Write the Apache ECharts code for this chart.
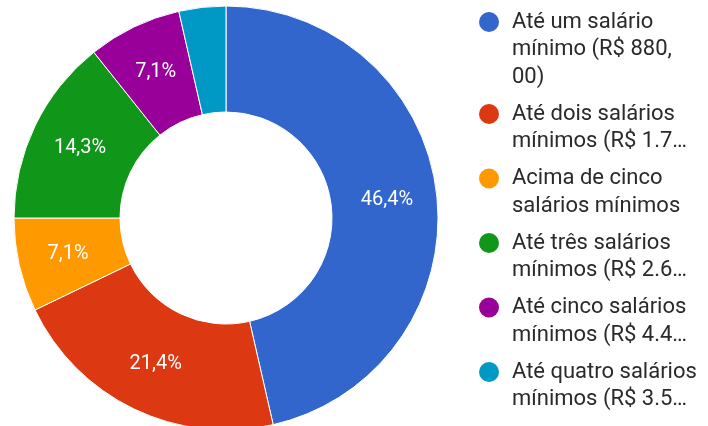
<!DOCTYPE html>
<html>
<head>
<meta charset="utf-8">
<script src="https://cdn.jsdelivr.net/npm/echarts@6/dist/echarts.min.js"></script>
<style>
	html, body { margin: 0; padding: 0; background: #fff; }
	#chart { width: 708px; height: 426px; }
</style>
</head>
<body>
<div id="chart"></div>
<script>
	// categories as shown in the legend (already truncated in the source)
	var categories = [
		'Até um salário mínimo (R$ 880,00)',
		'Até dois salários mínimos (R$ 1.7…',
		'Acima de cinco salários mínimos',
		'Até três salários mínimos (R$ 2.6…',
		'Até cinco salários mínimos (R$ 4.4…',
		'Até quatro salários mínimos (R$ 3.5…'
	];
	// how each legend entry is broken on screen
	var legendLines = [
		['Até um salário', 'mínimo (R$ 880,', '00)'],
		['Até dois salários', 'mínimos (R$ 1.7…'],
		['Acima de cinco', 'salários mínimos'],
		['Até três salários', 'mínimos (R$ 2.6…'],
		['Até cinco salários', 'mínimos (R$ 4.4…'],
		['Até quatro salários', 'mínimos (R$ 3.5…']
	];
	var counts = [13, 6, 2, 4, 2, 1];
	var colors = ['#3366cc', '#dc3912', '#ff9900', '#109618', '#990099', '#0099c6'];

	var chart = echarts.init(document.getElementById('chart'));

	var rich = {
		t: { fontSize: 22, lineHeight: 27.5, color: '#2a2a2a', fontFamily: 'Roboto' },
		g: { width: 13, height: 1 },
		s: { width: 33, height: 1 }
	};
	colors.forEach(function (c, i) {
		rich['d' + i] = { width: 20, height: 20, borderRadius: 10, backgroundColor: c };
	});

	var pieData = categories.map(function (name, i) {
		return { name: name, value: counts[i] };
	});

	chart.setOption({
		animation: false,
		color: colors,
		legend: {
			orient: 'vertical',
			left: 479,
			top: 11,
			icon: 'none',
			itemWidth: 0,
			itemHeight: 10,
			itemGap: 15,
			padding: 0,
			selectedMode: false,
			data: categories,
			formatter: function (name) {
				var i = categories.indexOf(name);
				return legendLines[i].map(function (line, k) {
					return (k === 0 ? '{d' + i + '|}{g|}' : '{s|}') + '{t|' + line + '}';
				}).join('\n');
			},
			textStyle: { rich: rich, padding: [0, 0, 0, -5] }
		},
		series: [{
			type: 'pie',
			center: [226, 218],
			radius: [106, 212],
			startAngle: 90,
			clockwise: true,
			avoidLabelOverlap: false,
			itemStyle: { borderColor: '#ffffff', borderWidth: 1 },
			label: {
				show: true,
				position: 'inside',
				color: '#ffffff',
				fontSize: 20,
				fontFamily: 'Roboto',
				formatter: function (p) {
					if (p.percent < 5) return '';
					return p.percent.toFixed(1).replace('.', ',') + '%';
				}
			},
			labelLine: { show: false },
			emphasis: { disabled: true },
			data: pieData
		}]
	});
</script>
</body>
</html>
